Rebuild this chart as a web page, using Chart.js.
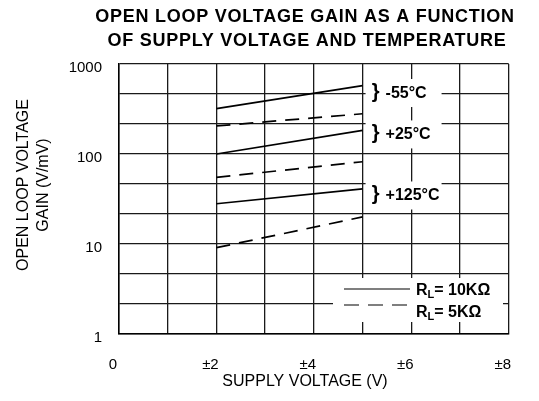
<!DOCTYPE html>
<html><head><meta charset="utf-8">
<script src="https://cdn.jsdelivr.net/npm/chart.js@4.4.1/dist/chart.umd.min.js"></script>
<style>html,body{margin:0;padding:0;background:#fff}canvas{display:block}</style>
</head><body>
<canvas id="c" width="539" height="401"></canvas>
<script>
// ---- data ----
const titleLines = ['OPEN LOOP VOLTAGE GAIN AS A FUNCTION', 'OF SUPPLY VOLTAGE AND TEMPERATURE'];
const xAxisTitle = 'SUPPLY VOLTAGE (V)';
const yAxisTitleLines = ['OPEN LOOP VOLTAGE', 'GAIN (V/mV)'];
const xTickValues = [0, 2, 4, 6, 8];
const xTickLabels = ['0', '±2', '±4', '±6', '±8'];
const yTickValues = [1, 10, 100, 1000];
const yTickLabels = ['1', '10', '100', '1000'];
const yGridValues = [1, 2.154, 4.642, 10, 21.54, 46.42, 100, 215.4, 464.2, 1000];
const temperatures = ['-55°C', '+25°C', '+125°C'];
const loadLabels = ['10KΩ', '5KΩ'];
const supplyVoltage = [2, 5];
const gainM55_10K = [320, 575];
const gainM55_5K = [205, 280];
const gainP25_10K = [100, 183];
const gainP25_5K = [55, 82];
const gainP125_10K = [28, 41];
const gainP125_5K = [9.1, 20];

const FONT = '"Liberation Sans", Arial, Helvetica, sans-serif';
const pts = arr => supplyVoltage.map((v, i) => ({ x: v, y: arr[i] }));
const solid = (label, arr) => ({ label, data: pts(arr), borderColor: '#000', borderWidth: 1.7, pointRadius: 0, fill: false, tension: 0 });
const dashed = (label, arr) => Object.assign(solid(label, arr), { borderDash: [14, 9] });

const textLayer = {
  id: 'textLayer',
  afterDatasetsDraw(chart) {
    const ctx = chart.ctx;
    const xs = chart.scales.x, ys = chart.scales.y;
    ctx.save();
    ctx.fillStyle = '#000';
    ctx.textAlign = 'center';
    ctx.textBaseline = 'middle';
    // main title
    ctx.font = 'bold 18px ' + FONT;
    try { ctx.letterSpacing = '0.75px'; } catch (e) {}
    ctx.fillText(titleLines[0], 305, 17);
    ctx.fillText(titleLines[1], 307, 41.5);
    try { ctx.letterSpacing = '0px'; } catch (e) {}
    // axis titles
    ctx.font = '16px ' + FONT;
    ctx.fillText(xAxisTitle, 305, 382);
    [24, 44].forEach((x, i) => {
      ctx.save(); ctx.translate(x, 185); ctx.rotate(-Math.PI / 2);
      ctx.fillText(yAxisTitleLines[i], 0, 0); ctx.restore();
    });
    // temperature group labels
    const xEnd = xs.getPixelForValue(supplyVoltage[supplyVoltage.length - 1]);
    const anchors = [476, 165, 34.6];
    anchors.forEach((v, i) => {
      const y = ys.getPixelForValue(v);
      ctx.fillStyle = '#fff';
      ctx.fillRect(xEnd + 3, y - 14, 76, 28);
      ctx.fillStyle = '#000';
      ctx.font = 'bold 20px ' + FONT;
      ctx.textAlign = 'center';
      ctx.fillText('}', xEnd + 13, y - 1);
      ctx.font = 'bold 16px ' + FONT;
      ctx.textAlign = 'left';
      ctx.fillText(temperatures[i], xEnd + 23, y + 0.5);
    });
    // legend
    ctx.fillStyle = '#fff';
    ctx.fillRect(333, 278, 170, 44);
    ctx.strokeStyle = '#000';
    ctx.lineWidth = 1.2;
    ctx.beginPath(); ctx.moveTo(344, 289); ctx.lineTo(410, 289); ctx.stroke();
    ctx.setLineDash([15, 9]);
    ctx.beginPath(); ctx.moveTo(344, 305); ctx.lineTo(408, 305); ctx.stroke();
    ctx.setLineDash([]);
    ctx.fillStyle = '#000';
    ctx.textAlign = 'left';
    [291, 313].forEach((y, i) => {
      let x = 416;
      ctx.font = 'bold 16px ' + FONT;
      ctx.fillText('R', x, y); x += ctx.measureText('R').width;
      ctx.font = 'bold 11px ' + FONT;
      ctx.fillText('L', x, y + 4); x += ctx.measureText('L').width;
      ctx.font = 'bold 16px ' + FONT;
      ctx.fillText('= ' + loadLabels[i], x, y);
    });
    ctx.restore();
  }
};

new Chart(document.getElementById('c'), {
  type: 'line',
  data: {
    datasets: [
      solid('-55°C RL=10K', gainM55_10K),
      dashed('-55°C RL=5K', gainM55_5K),
      solid('+25°C RL=10K', gainP25_10K),
      dashed('+25°C RL=5K', gainP25_5K),
      solid('+125°C RL=10K', gainP125_10K),
      dashed('+125°C RL=5K', gainP125_5K)
    ]
  },
  options: {
    responsive: false,
    animation: false,
    layout: { padding: { top: 64, right: 26, bottom: 0, left: 0 } },
    plugins: { legend: { display: false }, title: { display: false }, tooltip: { enabled: false } },
    scales: {
      x: {
        type: 'linear', min: 0, max: 8,
        afterFit: s => { s.height = 67; },
        grid: { color: '#1a1a1a', lineWidth: 1.3, drawTicks: false },
        border: { display: true, color: '#000', width: 1.5 },
        ticks: {
          stepSize: 1, autoSkip: false, maxRotation: 0, padding: 22, labelOffset: -6,
          color: '#000', font: { family: FONT, size: 15 },
          callback: v => { const i = xTickValues.indexOf(v); return i >= 0 ? xTickLabels[i] : ''; }
        }
      },
      y: {
        type: 'logarithmic', min: 1, max: 1000,
        afterFit: s => { s.width = 119; },
        afterBuildTicks: s => { s.ticks = yGridValues.map(v => ({ value: v })); },
        grid: { color: '#1a1a1a', lineWidth: 1.3, drawTicks: false },
        border: { display: true, color: '#000', width: 1.5 },
        ticks: {
          autoSkip: false, padding: 17, labelOffset: 4,
          color: '#000', font: { family: FONT, size: 15 },
          callback: v => { const i = yTickValues.findIndex(t => Math.abs(t - v) < 1e-6 * t); return i >= 0 ? yTickLabels[i] : ''; }
        }
      }
    }
  },
  plugins: [textLayer]
});
</script>
</body></html>
